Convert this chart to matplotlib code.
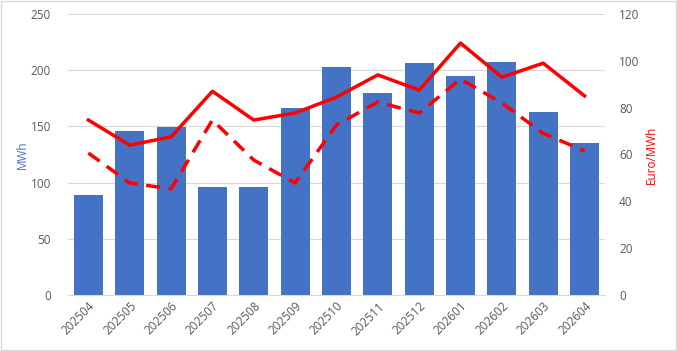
import matplotlib
matplotlib.use("Agg")
import matplotlib.pyplot as plt
import numpy as np

# Dữ liệu
months = ["202504", "202505", "202506", "202507", "202508", "202509", "202510",
          "202511", "202512", "202601", "202602", "202603", "202604"]
mwh = [89, 146, 149.5, 96, 96, 166, 203, 180, 206, 195, 207, 163, 135]
price_solid = [74.7, 64, 67.5, 87, 74.7, 77.7, 84.5, 94, 87.5, 107.6, 93, 99, 85]
price_dashed = [60.6, 47.8, 45.3, 74.7, 57.6, 47.8, 72.6, 82.4, 77.7, 92.2, 82, 69, 61.5]

plt.rcParams["font.family"] = ["Open Sans", "DejaVu Sans"]
grey = "#595959"

fig = plt.figure(figsize=(6.77, 3.51), dpi=100)
ax = fig.add_axes([0.100, 0.160, 0.794, 0.800])
x = np.arange(len(months))

ax.bar(x, mwh, width=0.7, color="#4472C4", zorder=2)
ax.set_ylim(0, 250)
ax.set_yticks(range(0, 251, 50))
ax.set_xlim(-0.5, len(months) - 0.5)
ax.set_xticks(x)
ax.set_xticklabels(months, rotation=45, ha="right", rotation_mode="anchor")
ax.grid(axis="y", color="#D9D9D9", linewidth=0.8, zorder=0)
ax.set_ylabel("MWh", color="#4472C4", fontsize=8.5, labelpad=1)
for s in ["top", "right", "left"]:
    ax.spines[s].set_visible(False)
ax.spines["bottom"].set_color("#D9D9D9")
ax.tick_params(axis="both", length=0, colors=grey, labelsize=8.5)
ax.tick_params(axis="y", pad=12)

ax2 = ax.twinx()
ax2.plot(x, price_solid, color="#FF0000", linewidth=2.5, zorder=3)
ax2.plot(x, price_dashed, color="#FF0000", linewidth=2.5, linestyle=(0, (4, 2.5)), zorder=3)
ax2.set_ylim(0, 120)
ax2.set_yticks(range(0, 121, 20))
ax2.set_ylabel("Euro/MWh", color="#FF0000", fontsize=8.5)
for s in ax2.spines.values():
    s.set_visible(False)
ax2.tick_params(axis="y", length=0, colors=grey, labelsize=8.5, pad=10)

fig.patches.append(plt.Rectangle((0.001, 0.002), 0.997, 0.995, transform=fig.transFigure,
                                 fill=False, edgecolor="#D9D9D9", linewidth=1))

fig.savefig("out.png", dpi=100)
